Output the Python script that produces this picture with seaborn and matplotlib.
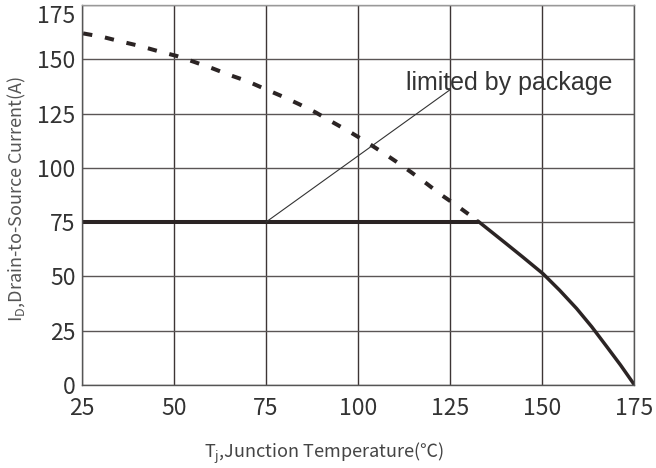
import matplotlib
matplotlib.use('Agg')
import matplotlib.pyplot as plt
import seaborn as sns
import pandas as pd

# curve
tj_dash = [25.4, 30.9, 35.8, 40.8, 45.8, 50.8, 55.5, 60.5, 65.2, 69.8, 74.5,
           79.3, 84, 88.5, 93, 97.3, 101.8, 106, 110.4, 114.4, 118.7, 122.6,
           126.8, 132.5]
id_dash = [161.9, 160.2, 158.1, 156.1, 153.7, 151.5, 148.8, 145.8, 142.7, 140,
           136.5, 133, 129.3, 125.5, 121.1, 117, 112.4, 107.8, 102.8, 98, 92.6,
           87.5, 82.6, 75.5]

tj_solid = [132.5, 135.6, 140.1, 144.7, 150.2, 154.7, 159.3, 163.4, 167.5,
            171.2, 175]
id_solid = [75.5, 71.3, 65.2, 58.9, 51.2, 43.6, 35.2, 26.8, 17.6, 9.2, 0]

tj_pkg = [25, 132.5]
id_pkg = [75, 75]

# leader line for the note
note_x = [75, 125]
note_y = [75, 136]

xticks = [25, 50, 75, 100, 125, 150, 175]
yticks = [0, 25, 50, 75, 100, 125, 150, 175]

sns.set_style('white')
plt.rcParams['font.family'] = ['Noto Sans CJK SC', 'DejaVu Sans']
plt.rcParams['font.weight'] = 'light'
plt.rcParams['mathtext.fontset'] = 'custom'
plt.rcParams['mathtext.rm'] = 'Noto Sans CJK SC:light'
plt.rcParams['mathtext.it'] = 'Noto Sans CJK SC:light'
plt.rcParams['mathtext.default'] = 'rm'

fig = plt.figure(figsize=(6.56, 4.68), dpi=100)
ax = fig.add_axes([0.1245, 0.1774, 0.8427, 0.812])

dash = pd.DataFrame({'tj': tj_dash, 'id': id_dash})
solid = pd.DataFrame({'tj': tj_solid, 'id': id_solid})
pkg = pd.DataFrame({'tj': tj_pkg, 'id': id_pkg})

line_col = '#2b2424'
sns.lineplot(data=dash, x='tj', y='id', ax=ax, color=line_col, lw=2.9,
             linestyle=(0, (2.3, 3.2)), sort=False)
sns.lineplot(data=solid, x='tj', y='id', ax=ax, color=line_col, lw=2.5, sort=False)
sns.lineplot(data=pkg, x='tj', y='id', ax=ax, color=line_col, lw=2.9, sort=False)
ax.plot(note_x, note_y, color='#333333', lw=0.8)
ax.text(113, 135.8, 'limited by package', fontsize=18, color='#333333',
        ha='left', va='baseline', family='Liberation Sans', weight='normal')

ax.set_xlim(25, 175)
ax.set_ylim(0, 175)
ax.set_xticks(xticks)
ax.set_yticks(yticks)
ax.grid(True, axis='x', color='#3d3535', lw=1.0)
ax.grid(True, axis='y', color='#5a5555', lw=1.0)
for s in ax.spines.values():
    s.set_color('#555555')
    s.set_linewidth(1.0)
ax.spines['top'].set_color('#999999')
ax.tick_params(axis='both', length=0, labelsize=16.5, labelcolor='#333333')
ax.tick_params(axis='x', pad=8.5)
ax.tick_params(axis='y', pad=4.5)
ax.get_yticklabels()[-1].set_va('top')

ax.set_xlabel('T$_j$,Junction Temperature(\u2103)', fontsize=13, color='#444444')
ax.xaxis.label.set_va('center')
ax.xaxis.set_label_coords(0.439, -0.179)
ax.set_ylabel('I$_D$,Drain-to-Source Current(A)', fontsize=13, color='#555555')
ax.yaxis.label.set_va('center')
ax.yaxis.set_label_coords(-0.117, 0.49)

fig.savefig('out.png', dpi=100)
